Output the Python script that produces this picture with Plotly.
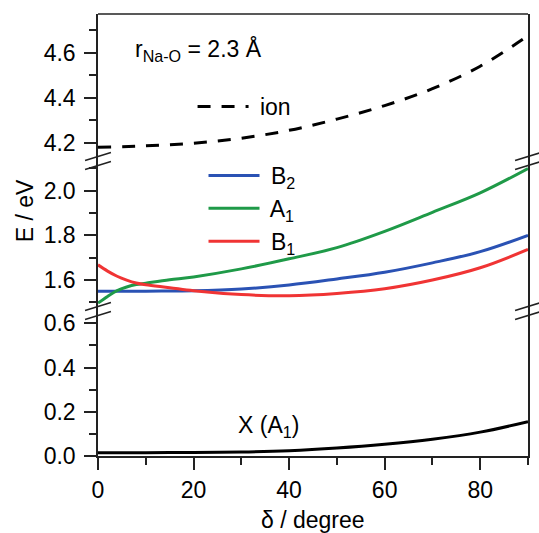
import plotly.graph_objects as go

# ---------------- data ----------------
delta = [0, 2, 4, 6, 8, 10, 15, 20, 30, 40, 50, 60, 70, 80, 90]
E_B2 = [1.550, 1.550, 1.550, 1.550, 1.550, 1.550, 1.551, 1.552, 1.560, 1.578, 1.605, 1.635, 1.677, 1.727, 1.800]
E_A1 = [1.497, 1.527, 1.553, 1.569, 1.580, 1.586, 1.601, 1.614, 1.650, 1.695, 1.745, 1.818, 1.903, 1.990, 2.099]
E_B1 = [1.668, 1.640, 1.617, 1.600, 1.587, 1.579, 1.566, 1.552, 1.535, 1.530, 1.540, 1.561, 1.600, 1.655, 1.737]

delta_c = [0, 10, 20, 30, 40, 50, 60, 70, 80, 90]
E_ion = [4.180, 4.186, 4.198, 4.220, 4.255, 4.305, 4.365, 4.440, 4.540, 4.675]
E_X = [0.015, 0.015, 0.016, 0.018, 0.024, 0.036, 0.053, 0.076, 0.108, 0.155]

names = ["B<sub>2</sub>", "A<sub>1</sub>", "B<sub>1</sub>"]
colors = ["#2a52b4", "#1f9a48", "#f03434"]

# ---------------- layout geometry ----------------
W, H = 539, 533
ML, MR, MT, MB = 98, 9, 14, 77
PW, PH = W - ML - MR, H - MT - MB
b1 = 0.32805   # bottom / middle break (paper)
b2 = 0.66742   # middle / top break (paper)

FONT = "Arial, 'Liberation Sans', Helvetica, sans-serif"
FS = 23
AX = "#222222"

fig = go.Figure()

for yv, nm, c in zip([E_B2, E_A1, E_B1], names, colors):
    fig.add_trace(go.Scatter(x=delta, y=yv, mode="lines", name=" " + nm,
                             line=dict(color=c, width=3, shape="spline"),
                             xaxis="x", yaxis="y2", legend="legend"))

fig.add_trace(go.Scatter(x=delta_c, y=E_ion, mode="lines", name=" ion",
                         line=dict(color="black", width=3, dash="13px,11px", shape="spline"),
                         xaxis="x", yaxis="y3", legend="legend2"))
fig.add_trace(go.Scatter(x=delta_c, y=E_X, mode="lines", name="X (A<sub>1</sub>)",
                         line=dict(color="black", width=3, shape="spline"),
                         xaxis="x", yaxis="y", showlegend=False))

tickfont = dict(family=FONT, size=FS, color="black")
common_y = dict(showline=True, linecolor=AX, linewidth=1.5, mirror=True,
                ticks="outside", ticklen=12, tickwidth=1.5, tickcolor=AX,
                showgrid=False, zeroline=False, tickfont=tickfont,
                ticklabelstandoff=4,
                tickformat=".1f", dtick=0.2, tick0=0,
                minor=dict(ticks="outside", ticklen=7, tickwidth=1.5, tickcolor=AX,
                           dtick=0.1, tick0=0, showgrid=False))

fig.update_layout(
    width=W, height=H,
    margin=dict(l=ML, r=MR, t=MT, b=MB),
    paper_bgcolor="white", plot_bgcolor="white",
    font=dict(family=FONT, size=FS, color="black"),
    xaxis=dict(domain=[0, 1], anchor="y", range=[0, 90], showline=True,
               linecolor=AX, linewidth=1.5, ticks="outside", ticklen=12,
               tickwidth=1.5, tickcolor=AX, dtick=20, tick0=0,
               showgrid=False, zeroline=False, tickfont=tickfont,
               ticklabelstandoff=1,
               minor=dict(ticks="outside", ticklen=7, tickwidth=1.5,
                          tickcolor=AX, dtick=10, tick0=0, showgrid=False)),
    yaxis=dict(domain=[0, b1], anchor="x", range=[0, 0.6555], **common_y),
    yaxis2=dict(domain=[b1, b2], anchor="x", range=[1.4616, 2.1326], **common_y),
    yaxis3=dict(domain=[b2, 1], anchor="x", range=[4.1187, 4.772], **common_y),
    legend=dict(x=(204 - ML) / PW, y=(MT + PH - 154) / PH, xanchor="left", yanchor="top",
                font=dict(family=FONT, size=FS), itemwidth=51,
                bgcolor="rgba(0,0,0,0)", borderwidth=0),
    legend2=dict(x=(193 - ML) / PW, y=(MT + PH - 85) / PH, xanchor="left", yanchor="top",
                 font=dict(family=FONT, size=FS), itemwidth=51,
                 bgcolor="rgba(0,0,0,0)", borderwidth=0),
    showlegend=True,
)

# top frame line
shapes = [dict(type="line", xref="paper", yref="paper", x0=0, x1=1, y0=1, y1=1,
               line=dict(color=AX, width=1.5))]
# axis-break marks (double slashes) on both vertical axes
for yb in (b1, b2):
    for xp in (0, 1):
        for off in (-4.5, 4.5):
            x0 = xp - 13 / PW
            x1 = xp + 13 / PW
            y0 = yb + (-off - 4) / PH
            y1 = yb + (-off + 4) / PH
            shapes.append(dict(type="line", xref="paper", yref="paper",
                               x0=x0, x1=x1, y0=y0, y1=y1,
                               line=dict(color=AX, width=1.5)))
fig.update_layout(shapes=shapes)

def px_x(p):
    return (p - ML) / PW

def px_y(p):
    return (MT + PH - p) / PH

annotations = [
    dict(text="r<sub>Na-O</sub> = 2.3 Å", x=px_x(133), y=px_y(50), xref="paper", yref="paper",
         xanchor="left", yanchor="middle", showarrow=False, font=dict(family=FONT, size=FS)),
    dict(text="X (A<sub>1</sub>)", x=px_x(237), y=px_y(426), xref="paper", yref="paper",
         xanchor="left", yanchor="middle", showarrow=False, font=dict(family=FONT, size=FS)),
    dict(text="E / eV", x=px_x(25), y=px_y(211), xref="paper", yref="paper",
         xanchor="center", yanchor="middle", textangle=-90, showarrow=False,
         font=dict(family=FONT, size=FS)),
    dict(text="δ / degree", x=0.5, y=px_y(520), xref="paper", yref="paper",
         xanchor="center", yanchor="middle", showarrow=False, font=dict(family=FONT, size=FS)),
]
fig.update_layout(annotations=annotations)

fig.write_html("out.html")
